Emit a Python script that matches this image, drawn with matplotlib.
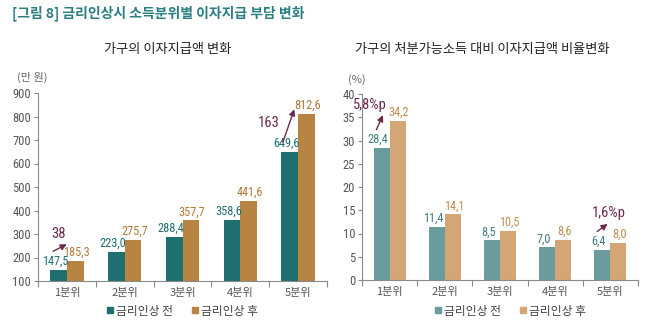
import numpy as np
import matplotlib as mpl
import matplotlib.pyplot as plt
from matplotlib import font_manager
from matplotlib.lines import Line2D

# -----------------------
# data
# -----------------------
categories = ["1분위", "2분위", "3분위", "4분위", "5분위"]
amount_before = [147.5, 223.0, 288.4, 358.6, 649.6]
amount_after = [185.3, 275.7, 357.7, 441.6, 812.6]
ratio_before = [28.4, 11.4, 8.5, 7.0, 6.4]
ratio_after = [34.2, 14.1, 10.5, 8.6, 8.0]
legend_labels = ["금리인상 전", "금리인상 후"]

KR = "Noto Sans CJK KR"

# narrow font for the numbers, if one is around
fonts = font_manager.fontManager.ttflist
names = {f.name for f in fonts}
NUM, STRETCH = "Liberation Sans", "normal"
for cand in ["Liberation Sans Narrow", "Roboto Condensed", "Open Sans Condensed"]:
    if cand in names:
        NUM = cand
        break
else:
    if any(f.name == "DejaVu Sans" and f.stretch == "condensed" for f in fonts):
        NUM, STRETCH = "DejaVu Sans", "condensed"

mpl.rcParams.update({
    "font.family": [KR, "DejaVu Sans"],
    "axes.spines.top": False,
    "axes.spines.right": False,
    "axes.edgecolor": "#8a8a8a",
    "axes.linewidth": 0.8,
    "xtick.color": "#8a8a8a",
    "ytick.color": "#8a8a8a",
    "xtick.labelcolor": "#555555",
    "ytick.labelcolor": "#555555",
})

ARROW = "#6b2a4c"
fmt = lambda v: f"{v:.1f}".replace(".", ",")
num = dict(family=NUM, fontstretch=STRETCH)

fig = plt.figure(figsize=(6.6, 3.34), dpi=100)
fig.text(12 / 660, 1 - 13 / 334, "[그림 8] 금리인상시 소득분위별 이자지급 부담 변화",
         fontsize=10, weight="bold", color="#2b7f80", va="center", ha="left")


def draw_panel(rect, before, after, colors, ylim, step, title, title_x, unit, unit_xy, leg_x):
    ax = fig.add_axes(rect)
    x = np.arange(len(categories))
    w = 0.29
    b1 = ax.bar(x - w / 2, before, w, color=colors[0])
    b2 = ax.bar(x + w / 2, after, w, color=colors[1])
    lab1 = ax.bar_label(b1, labels=[fmt(v) for v in before], padding=1.5,
                        color=colors[2], fontsize=8.8, **num)
    lab2 = ax.bar_label(b2, labels=[fmt(v) for v in after], padding=1.5,
                        color=colors[3], fontsize=8.8, **num)
    # teal labels sit a little left of their bars in the original
    for t in lab1:
        t.xyann = (-2.5, 1.5)
    for t in lab2:
        t.xyann = (0.8, 1.5)
    ax.set_xlim(-0.5, len(categories) - 0.5)
    ax.set_ylim(*ylim)
    ax.set_yticks(np.arange(ylim[0], ylim[1] + 1, step))
    ax.set_xticks(x)
    ax.set_xticklabels(categories, fontsize=8)
    ax.set_xticks(np.arange(-0.5, len(categories)), minor=True)
    ax.tick_params(axis="x", which="major", length=0, pad=5)
    ax.tick_params(axis="x", which="minor", length=4, width=0.8)
    ax.tick_params(axis="y", length=3, width=0.8, pad=2)
    for t in ax.get_yticklabels():
        t.set_fontfamily(NUM)
        t.set_fontstretch(STRETCH)
        t.set_fontsize(9)
    fig.text(title_x, 1 - 50 / 334, title, fontsize=9.5, color="#222222", ha="center", va="center")
    fig.text(unit_xy[0], unit_xy[1], unit, fontsize=8, color="#666666", ha="center", va="center")
    handles = [Line2D([], [], marker="s", ls="", color=c, markersize=4.5) for c in colors[:2]]
    fig.legend(handles, legend_labels, loc="center", bbox_to_anchor=(leg_x, 1 - 311 / 334),
               ncol=2, frameon=False, fontsize=8.5, handlelength=0.6, handletextpad=0.2,
               columnspacing=1.6, labelcolor="#444444")
    return ax


ax1 = draw_panel([38 / 660, 1 - 281 / 334, 289 / 660, 188 / 334],
                 amount_before, amount_after,
                 ["#1f6f70", "#b88442", "#1f6f70", "#b0783a"],
                 (100, 900), 100, "가구의 이자지급액 변화", 168 / 660,
                 "(만 원)", (32 / 660, 1 - 77 / 334), 182 / 660)
ax1.annotate("", xy=(0.04, 262), xytext=(-0.28, 221),
             arrowprops=dict(arrowstyle="-|>", color=ARROW, lw=1.0, mutation_scale=9))
ax1.text(-0.15, 298, "38", color=ARROW, fontsize=10.5, ha="center", va="center", **num)
ax1.annotate("", xy=(3.95, 842), xytext=(3.72, 679),
             arrowprops=dict(arrowstyle="-|>", color=ARROW, lw=1.0, mutation_scale=9))
ax1.text(3.5, 772, "163", color=ARROW, fontsize=10.5, ha="center", va="center", **num)

ax2 = draw_panel([362 / 660, 1 - 280 / 334, 276 / 660, 186 / 334],
                 ratio_before, ratio_after,
                 ["#6a9c9d", "#d4a676", "#3f7c7d", "#c08c50"],
                 (0, 40), 5, "가구의 처분가능소득 대비 이자지급액 비율변화", 482 / 660,
                 "(%)", (357 / 660, 1 - 80 / 334), 510 / 660)
ax2.annotate("", xy=(-0.10, 36.0), xytext=(-0.26, 31.8),
             arrowprops=dict(arrowstyle="-|>", color=ARROW, lw=1.0, mutation_scale=9))
ax2.text(-0.36, 37.6, "5,8%p", color=ARROW, fontsize=10.5, ha="center", va="center", **num)
ax2.annotate("", xy=(3.99, 12.4), xytext=(3.72, 10.1),
             arrowprops=dict(arrowstyle="-|>", color=ARROW, lw=1.0, mutation_scale=9))
ax2.text(3.97, 14.4, "1,6%p", color=ARROW, fontsize=10.5, ha="center", va="center", **num)

plt.savefig("out.png", dpi=100)
